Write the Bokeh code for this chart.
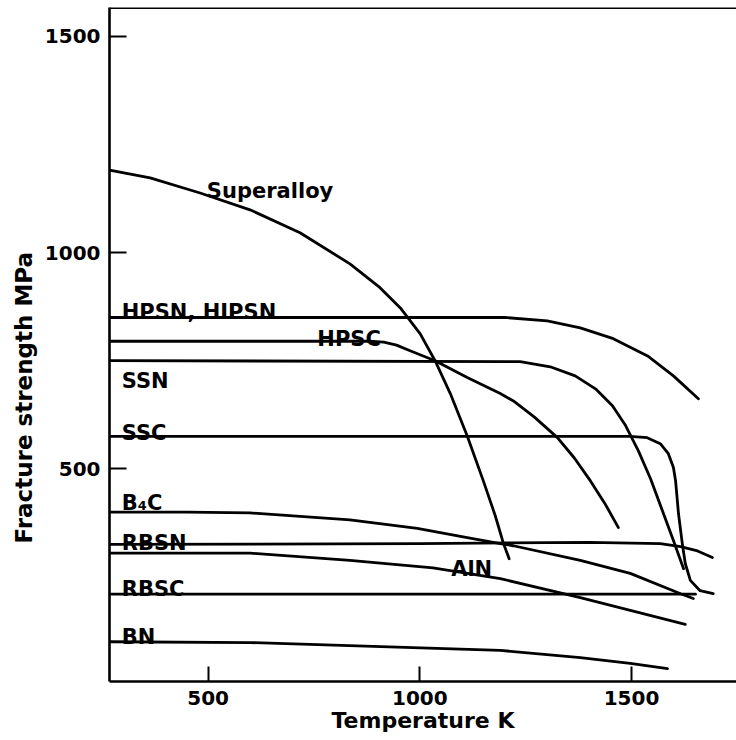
from bokeh.plotting import figure
from bokeh.models import Range1d, FixedTicker, Span, Title, ColumnDataSource
from bokeh.core.properties import value
from bokeh.embed import file_html
from bokeh.resources import INLINE

# ---- data: temperature (K) and fracture strength (MPa) ----
superalloy_T = [267, 363, 481, 599, 717, 835, 906, 954, 1001, 1036, 1072, 1112, 1150, 1178, 1197, 1211]
superalloy_S = [1191, 1173, 1138, 1099, 1046, 974, 919, 872, 812, 750, 674, 576, 472, 392, 329, 292]

hpsn_T = [267, 1200, 1301, 1379, 1457, 1538, 1599, 1658]
hpsn_S = [850, 850, 842, 826, 801, 761, 715, 662]

hpsc_T = [267, 880, 915, 945, 977, 1036, 1112, 1190, 1221, 1270, 1325, 1365, 1403, 1437, 1469]
hpsc_S = [795, 795, 793, 786, 773, 750, 711, 674, 657, 620, 572, 525, 472, 420, 364]

ssn_T = [267, 1237, 1308, 1367, 1415, 1455, 1486, 1516, 1545, 1573, 1599, 1623]
ssn_S = [750, 748, 736, 715, 685, 646, 600, 542, 477, 403, 334, 269]

ssc_T = [267, 1497, 1537, 1568, 1587, 1599, 1604, 1611, 1620, 1627, 1639, 1662, 1693]
ssc_S = [575, 575, 572, 558, 535, 503, 473, 396, 327, 281, 242, 218, 211]

b4c_T = [267, 450, 599, 835, 994, 1112, 1190, 1221, 1379, 1497, 1616, 1646]
b4c_S = [400, 400, 398, 382, 362, 341, 327, 322, 288, 258, 211, 200]

rbsn_T = [267, 1000, 1400, 1568, 1616, 1656, 1691]
rbsn_S = [325, 327, 330, 327, 320, 310, 295]

aln_T = [267, 599, 835, 1031, 1190, 1379, 1627]
aln_S = [305, 305, 288, 271, 246, 202, 140]

rbsc_T = [267, 1651]
rbsc_S = [210, 210]

bn_T = [267, 599, 1190, 1379, 1497, 1585]
bn_S = [100, 98, 80, 63, 50, 38]

series = [
    (superalloy_T, superalloy_S), (hpsn_T, hpsn_S), (hpsc_T, hpsc_S),
    (ssn_T, ssn_S), (ssc_T, ssc_S), (b4c_T, b4c_S), (rbsn_T, rbsn_S),
    (aln_T, aln_S), (rbsc_T, rbsc_S), (bn_T, bn_S),
]

label_text = ["Superalloy", "HPSN, HIPSN", "HPSC", "SSN", "SSC", "B\u2084C",
              "RBSN", "AlN", "RBSC", "BN"]
# annotation anchor points (left / baseline of each label)
label_x = [497, 296, 758, 296, 296, 296, 296, 1074, 296, 296]
label_y = [1143, 863, 801, 704, 583, 422, 329, 269, 221, 110]

x_ticks = [500, 1000, 1500]
y_ticks = [500, 1000, 1500]

FONT = "DejaVu Sans"

p = figure(width=736, height=740, output_backend="svg", toolbar_location=None,
           x_range=Range1d(267, 1748), y_range=Range1d(8, 1567),
           min_border_left=109, min_border_right=0, min_border_top=7,
           min_border_bottom=59)
p.outline_line_color = None
p.xgrid.visible = False
p.ygrid.visible = False
p.background_fill_color = "white"
p.border_fill_color = "white"

for T, S in series:
    p.line(T, S, line_color="black", line_width=2.8, line_join="round", line_cap="round")

src = ColumnDataSource(dict(x=label_x, y=label_y, t=label_text))
p.text(x="x", y="y", text="t", source=src, text_font=value(FONT),
       text_font_style="bold", text_font_size="21px", text_color="black",
       text_align="left", text_baseline="alphabetic")

for ax, ticks in ((p.xaxis[0], x_ticks), (p.yaxis[0], y_ticks)):
    ax.ticker = FixedTicker(ticks=ticks)
    ax.minor_tick_line_color = None
    ax.axis_line_width = 2.6
    ax.axis_line_color = "black"
    ax.major_tick_line_width = 2
    ax.major_tick_line_color = "black"
    ax.major_tick_out = 0
    ax.major_label_text_font = FONT
    ax.major_label_text_font_style = "bold"
    ax.major_label_text_font_size = "20px"
    ax.major_label_text_color = "black"

p.xaxis.major_tick_in = 15
p.yaxis.major_tick_in = 17
p.xaxis.major_label_standoff = 9
p.yaxis.major_label_standoff = 9

p.xaxis.axis_label = "Temperature K"
p.xaxis.axis_label_text_font = FONT
p.xaxis.axis_label_text_font_style = "bold"
p.xaxis.axis_label_text_font_size = "22px"
p.xaxis.axis_label_text_color = "black"
p.xaxis.axis_label_standoff = 0

# top frame line
p.add_layout(Span(location=1567, dimension="width", line_color="black", line_width=3))

# vertical axis title
p.add_layout(Title(text="Fracture strength MPa", align="left", offset=138,
                   text_font=FONT, text_font_style="bold", text_font_size="23px",
                   text_color="black", standoff=10), "left")

open("out.html", "w").write(file_html(p, INLINE))
